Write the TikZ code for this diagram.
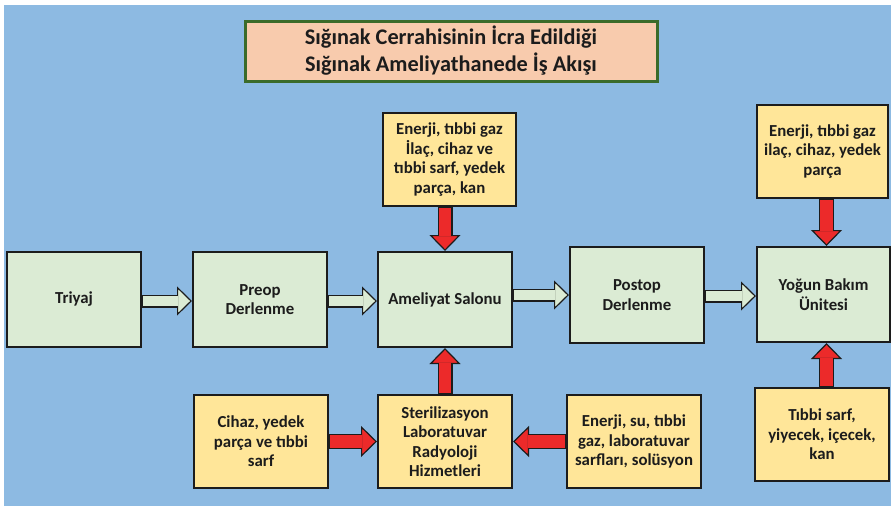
\documentclass[tikz,border=0pt]{standalone}
\usepackage{fontspec}
\setmainfont{Carlito}
\usetikzlibrary{arrows.meta}

\definecolor{bgblue}{HTML}{8DBAE2}
\definecolor{stagegreen}{HTML}{DBEBD4}
\definecolor{supplyyellow}{HTML}{FFE699}
\definecolor{titlepeach}{HTML}{F8CBAD}
\definecolor{titleframe}{HTML}{3B6B2A}
\definecolor{flowred}{HTML}{EC2A2A}
\definecolor{ink}{HTML}{1C1C1C}

\tikzset{
	stage/.style={draw=ink, line width=2pt, fill=stagegreen, minimum width=134pt, minimum height=95pt, inner sep=0pt, align=center, text=ink, font=\fontsize{16.8}{19.5}\selectfont\bfseries},
	supply/.style={stage, fill=supplyyellow, minimum height=93pt},
	hollow/.style={draw=ink, line width=13pt, -{Triangle[length=15pt, width=29pt, line width=1.2pt, fill=stagegreen]},
		postaction={draw=stagegreen, line width=10.6pt, -, shorten >=14pt, shorten <=1pt}},
	feed/.style={draw=ink, line width=15pt, -{Triangle[length=16pt, width=31pt, line width=1.2pt, fill=flowred]},
		postaction={draw=flowred, line width=12.6pt, -, shorten >=15pt, shorten <=1pt}},
}

\begin{document}
\begin{tikzpicture}[x=1pt,y=-1pt]
				\useasboundingbox (0,0) rectangle (891,506);
				\fill[bgblue] (4,5) rectangle (891,506);
				%\draw [help lines,step=50] (0,0) grid (891,506);
				\node[draw=titleframe, line width=3pt, fill=titlepeach, minimum width=412pt, minimum height=60pt, align=center, text=ink, font=\fontsize{22.3}{27}\selectfont\bfseries] (title) at (451,51) {Sığınak Cerrahisinin İcra Edildiği\\Sığınak Ameliyathanede İş Akışı};
				% main flow
				\node[stage] (triyaj) at (74,299.5) {Triyaj};
				\node[stage] (preop) at (260,299.5) {Preop\\Derlenme};
				\node[stage] (ameliyat) at (445,299.5) {Ameliyat Salonu};
				\node[stage, minimum height=96pt] (postop) at (637,295) {Postop\\Derlenme};
				\node[stage, minimum width=133pt] (yogun) at (823.5,294.5) {Yoğun Bakım\\Ünitesi};
				% supplies
				\node[supply, minimum width=133pt] (supplyA) at (449.5,159.5) {Enerji, tıbbi gaz\\İlaç, cihaz ve\\tıbbi sarf, yedek\\parça, kan};
				\node[supply, minimum width=131pt] (supplyB) at (822.5,151.5) {Enerji, tıbbi gaz\\ilaç, cihaz, yedek\\parça};
				\node[supply] (cihaz) at (261,441.5) {Cihaz, yedek\\parça ve tıbbi\\sarf};
				\node[supply] (steril) at (445,441.5) {Sterilizasyon\\Laboratuvar\\Radyoloji\\Hizmetleri};
				\node[supply] (enerjisu) at (634,441.5) {Enerji, su, tıbbi\\gaz, laboratuvar\\sarfları, solüsyon};
				\node[supply] (tibbisarf) at (822,434.5) {Tıbbi sarf,\\yiyecek, içecek,\\kan};
				% hollow arrows
				\draw[hollow] ([yshift=-1.5pt]triyaj.east) -- ([yshift=-1.5pt]preop.west);
				\draw[hollow] ([yshift=-1.5pt]preop.east) -- ([yshift=-1.5pt]ameliyat.west);
				\draw[hollow] (ameliyat.east |- postop.west) -- (postop.west);
				\draw[hollow] ([yshift=-1pt]postop.east) -- ([yshift=-1pt]postop.east -| yogun.west);
				% red arrows
				\draw[feed] (supplyA.south -| ameliyat) -- (ameliyat.north);
				\draw[feed] (steril) -- (ameliyat);
				\draw[feed] (cihaz) -- (steril);
				\draw[feed] (enerjisu) -- (steril);
				\draw[feed] ([xshift=3pt]yogun.north |- supplyB.south) -- ([xshift=3pt]yogun.north);
				\draw[feed] ([xshift=3pt]yogun.south |- tibbisarf.north) -- ([xshift=3pt]yogun.south);
\end{tikzpicture}
\end{document}
